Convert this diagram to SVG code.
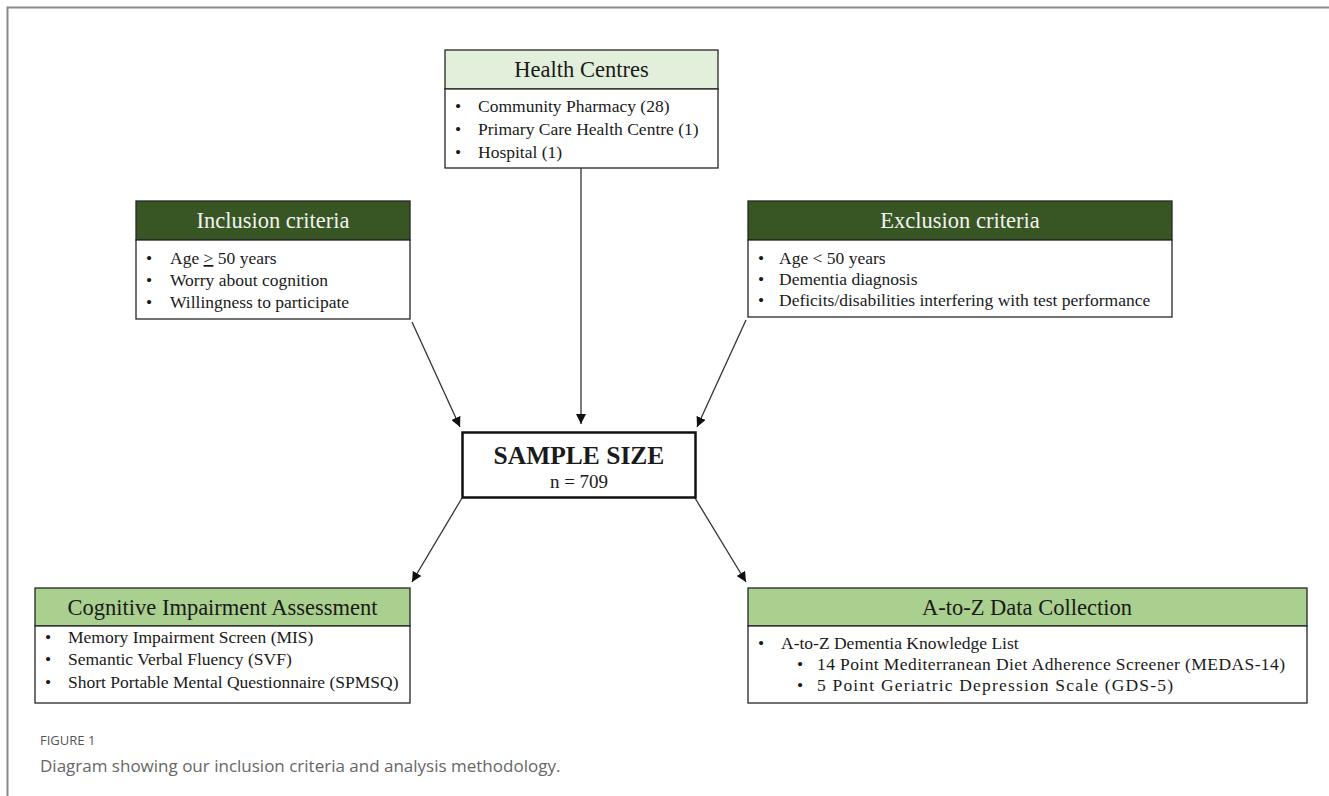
<svg xmlns="http://www.w3.org/2000/svg" width="1329" height="796" viewBox="0 0 1329 796">
<style>
.box{fill:#fff;stroke:#262626;stroke-width:1.3}
.hl{fill:#e2efda;stroke:#262626;stroke-width:1.3}
.hd{fill:#375623;stroke:#262626;stroke-width:1.3}
.hm{fill:#a9d08e;stroke:#262626;stroke-width:1.3}
.t{font-family:"Liberation Serif","Times New Roman",serif;fill:#1a1a1a}
.title{font-size:22.5px;text-anchor:middle}
.tw{fill:#f2f2f2}
.b{font-size:17.5px}
.conn line{stroke:#333;stroke-width:1.3;marker-end:url(#ah)}
.cap{font-family:"Open Sans","Noto Sans",sans-serif}
</style>
<defs>
<marker id="ah" viewBox="0 0 10 10" refX="10" refY="5" markerWidth="10" markerHeight="10" markerUnits="userSpaceOnUse" orient="auto">
<path d="M0,0 L10,5 L0,10 z" fill="#111"/>
</marker>
</defs>
<rect width="1329" height="796" fill="#fff"/>
<path d="M7.5,796 V7.5 H1329" fill="none" stroke="#8a8a8a" stroke-width="2"/>

<g class="conn">
<line x1="581" y1="168" x2="581" y2="424"/>
<line x1="412" y1="322" x2="460" y2="427"/>
<line x1="746" y1="320" x2="697" y2="427"/>
<line x1="462" y1="498" x2="412" y2="582"/>
<line x1="695" y1="498" x2="746" y2="582"/>
</g>

<g id="health-centres">
<rect class="hl" x="445" y="50" width="273" height="39"/>
<rect class="box" x="445" y="89" width="273" height="79"/>
<text class="t title" x="581.5" y="77">Health Centres</text>
<text class="t b" x="455" y="112">•</text><text class="t b" x="478" y="112">Community Pharmacy (28)</text>
<text class="t b" x="455" y="135">•</text><text class="t b" x="478" y="135">Primary Care Health Centre (1)</text>
<text class="t b" x="455" y="158">•</text><text class="t b" x="478" y="158">Hospital (1)</text>
</g>

<g id="inclusion">
<rect class="hd" x="136" y="201" width="274" height="39"/>
<rect class="box" x="136" y="240" width="274" height="79"/>
<text class="t title tw" x="273" y="228">Inclusion criteria</text>
<text class="t b" x="146" y="264">•</text><text class="t b" x="170" y="264">Age <tspan text-decoration="underline">&gt;</tspan> 50 years</text>
<text class="t b" x="146" y="286">•</text><text class="t b" x="170" y="286">Worry about cognition</text>
<text class="t b" x="146" y="308">•</text><text class="t b" x="170" y="308">Willingness to participate</text>
</g>

<g id="exclusion">
<rect class="hd" x="748" y="201" width="424" height="39"/>
<rect class="box" x="748" y="240" width="424" height="77"/>
<text class="t title tw" x="960" y="228">Exclusion criteria</text>
<text class="t b" x="758" y="264">•</text><text class="t b" x="779" y="264">Age &lt; 50 years</text>
<text class="t b" x="758" y="285">•</text><text class="t b" x="779" y="285">Dementia diagnosis</text>
<text class="t b" x="758" y="306">•</text><text class="t b" x="779" y="306">Deficits/disabilities interfering with test performance</text>
</g>

<g id="sample-size">
<rect x="462.5" y="432.5" width="233" height="65" fill="#fff" stroke="#111" stroke-width="2.5"/>
<text class="t" x="579" y="464" font-size="25.5" font-weight="bold" text-anchor="middle">SAMPLE SIZE</text>
<text class="t" x="579" y="488" font-size="19" text-anchor="middle">n = 709</text>
</g>

<g id="cognitive">
<rect class="hm" x="35" y="588" width="375" height="38"/>
<rect class="box" x="35" y="626" width="375" height="77"/>
<text class="t title" x="222.5" y="615">Cognitive Impairment Assessment</text>
<text class="t b" x="45" y="643">•</text><text class="t b" x="68" y="643">Memory Impairment Screen (MIS)</text>
<text class="t b" x="45" y="665">•</text><text class="t b" x="68" y="665">Semantic Verbal Fluency (SVF)</text>
<text class="t b" x="45" y="688">•</text><text class="t b" x="68" y="688">Short Portable Mental Questionnaire (SPMSQ)</text>
</g>

<g id="atoz">
<rect class="hm" x="748" y="588" width="559" height="38"/>
<rect class="box" x="748" y="626" width="559" height="77"/>
<text class="t title" x="1027" y="615">A-to-Z Data Collection</text>
<text class="t b" x="758" y="649">•</text><text class="t b" x="781" y="649">A-to-Z Dementia Knowledge List</text>
<text class="t b" x="797" y="670">•</text><text class="t b" x="817" y="670" textLength="468" lengthAdjust="spacing">14 Point Mediterranean Diet Adherence Screener (MEDAS-14)</text>
<text class="t b" x="797" y="691">•</text><text class="t b" x="817" y="691" textLength="356" lengthAdjust="spacing">5 Point Geriatric Depression Scale (GDS-5)</text>
</g>

<g id="caption">
<text class="cap" x="40" y="745" font-size="13" fill="#555">FIGURE 1</text>
<text class="cap" x="40" y="772" font-size="17" fill="#666">Diagram showing our inclusion criteria and analysis methodology.</text>
</g>
</svg>
